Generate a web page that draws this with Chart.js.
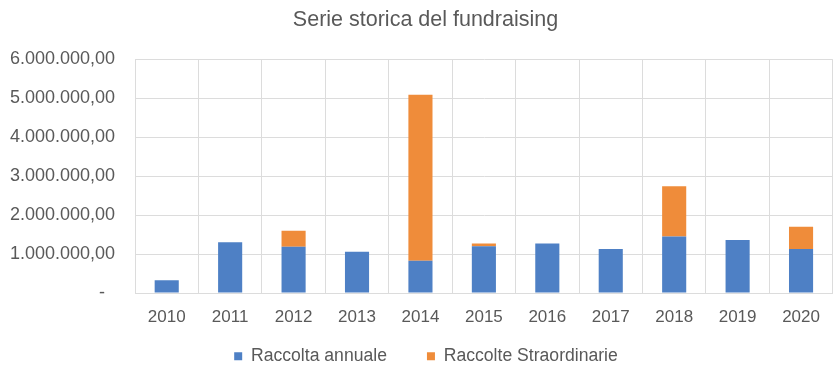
<!DOCTYPE html>
<html>
<head>
<meta charset="utf-8">
<script src="https://cdn.jsdelivr.net/npm/chart.js@4/dist/chart.umd.min.js"></script>
<style>
  html, body { margin: 0; padding: 0; background: #fff; }
  #wrap { width: 834px; height: 365px; position: relative; }
</style>
</head>
<body>
<div id="wrap"><canvas id="chart"></canvas></div>
<script>
var years = ['2010', '2011', '2012', '2013', '2014', '2015', '2016', '2017', '2018', '2019', '2020'];
var raccoltaAnnuale = [330000, 1300000, 1190000, 1060000, 830000, 1200000, 1270000, 1130000, 1450000, 1360000, 1130000];
var raccolteStraordinarie = [0, 0, 410000, 0, 4260000, 70000, 0, 0, 1290000, 0, 570000];
var yTicks = [0, 1000000, 2000000, 3000000, 4000000, 5000000, 6000000];

// accounting style: zero shows as a dash with some room after it
function formatIt(v) {
    if (v === 0) return '-  ';
    var s = Math.round(v).toString().replace(/\B(?=(\d{3})+(?!\d))/g, '.');
    return s + ',00';
}

var fontFamily = '"Liberation Sans", Arial, sans-serif';

// nudge a box while it draws, leaving the layout alone
function shiftDraw(box, dx, dy) {
    var draw = box.draw;
    box.draw = function () {
        var top = this.top, left = this.left, right = this.right;
        this.top = top + dy;
        this.left = left + dx;
        this.right = right + dx;
        draw.apply(this, arguments);
        this.top = top; this.left = left; this.right = right;
    };
}

// legend: keep the wide gap between items but squeeze it into the bottom strip
var boxTweaks = {
    id: 'boxTweaks',
    afterInit: function (chart) {
        var legend = chart.legend;
        if (legend) {
            var fit = legend.fit;
            legend.fit = function () { fit.call(this); this.height = 23.6; };
            shiftDraw(legend, 9.5, -34);
        }
        if (chart.titleBlock) shiftDraw(chart.titleBlock, 9, 0);
    }
};

var ctx = document.getElementById('chart').getContext('2d');
new Chart(ctx, {
    type: 'bar',
    data: {
        labels: years,
        datasets: [
            { label: 'Raccolta annuale', data: raccoltaAnnuale, backgroundColor: '#4e80c5', barPercentage: 0.38, categoryPercentage: 1 },
            { label: 'Raccolte Straordinarie', data: raccolteStraordinarie, backgroundColor: '#ef8c3a', barPercentage: 0.38, categoryPercentage: 1 }
        ]
    },
    options: {
        responsive: true,
        maintainAspectRatio: false,
        animation: false,
        layout: { padding: { left: 0, right: 1, top: 0, bottom: 0 } },
        plugins: {
            title: {
                display: true,
                text: 'Serie storica del fundraising',
                color: '#595959',
                font: { family: fontFamily, size: 21.5, weight: 'normal' },
                padding: { top: 7, bottom: 26.5 }
            },
            legend: {
                position: 'bottom',
                labels: {
                    color: '#595959',
                    font: { family: fontFamily, size: 17.6 },
                    boxWidth: 8,
                    boxHeight: 8,
                    padding: 40
                }
            },
            tooltip: { enabled: false }
        },
        scales: {
            x: {
                stacked: true,
                grid: { color: '#dcdcdc', drawTicks: false },
                border: { color: '#dcdcdc' },
                ticks: { color: '#595959', font: { family: fontFamily, size: 17 }, padding: 14 }
            },
            y: {
                stacked: true,
                min: 0,
                max: 6000000,
                afterBuildTicks: function (scale) {
                    scale.ticks = yTicks.map(function (v) { return { value: v }; });
                },
                afterFit: function (scale) { scale.width = 135; },
                grid: { color: '#dcdcdc', drawTicks: false },
                border: { color: '#dcdcdc' },
                ticks: {
                    color: '#595959',
                    font: { family: fontFamily, size: 18 },
                    padding: 20,
                    callback: function (v) { return formatIt(v); }
                }
            }
        }
    },
    plugins: [boxTweaks]
});
</script>
</body>
</html>
